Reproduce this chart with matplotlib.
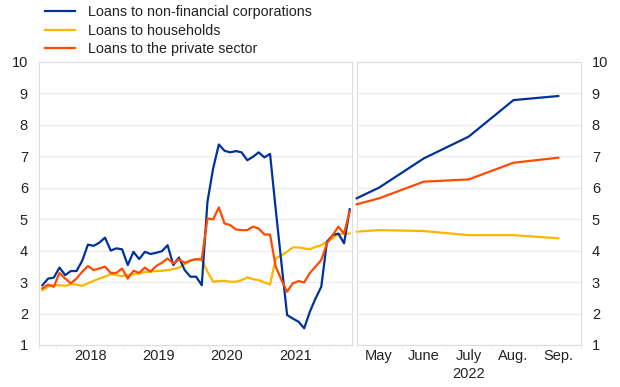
import matplotlib
matplotlib.use("Agg")
import matplotlib.pyplot as plt
import numpy as np

plt.rcParams['font.family'] = ['Liberation Sans', 'DejaVu Sans']

# Monthly series, Oct 2017 - Apr 2022 (left panel)
nfc = [2.90, 3.11, 3.14, 3.46, 3.22, 3.35, 3.35, 3.68, 4.19, 4.15,
       4.25, 4.41, 4.00, 4.07, 4.04, 3.54, 3.96, 3.73, 3.96, 3.89,
       3.93, 3.98, 4.17, 3.54, 3.78, 3.38, 3.17, 3.17, 2.90, 5.55,
       6.61, 7.37, 7.17, 7.12, 7.16, 7.12, 6.87, 6.98, 7.12, 6.96,
       7.07, 5.30, 3.60, 1.95, 1.84, 1.74, 1.53, 2.06, 2.48, 2.85,
       4.28, 4.49, 4.54, 4.23, 5.31]
hh = [2.74, 2.85, 2.90, 2.90, 2.88, 2.93, 2.92, 2.88, 2.96, 3.04,
      3.11, 3.17, 3.25, 3.22, 3.19, 3.22, 3.25, 3.27, 3.32, 3.33,
      3.35, 3.36, 3.38, 3.41, 3.46, 3.56, 3.68, 3.72, 3.70, 3.33,
      3.01, 3.03, 3.04, 3.01, 3.01, 3.06, 3.15, 3.09, 3.06, 2.99,
      2.92, 3.75, 3.85, 3.96, 4.10, 4.10, 4.07, 4.04, 4.12, 4.17,
      4.28, 4.39, 4.52, 4.54, 4.54]
ps = [2.80, 2.92, 2.85, 3.29, 3.11, 2.96, 3.11, 3.33, 3.51, 3.38,
      3.43, 3.49, 3.29, 3.29, 3.43, 3.11, 3.36, 3.29, 3.46, 3.33,
      3.51, 3.61, 3.75, 3.59, 3.72, 3.61, 3.68, 3.73, 3.72, 5.02,
      4.99, 5.37, 4.86, 4.81, 4.67, 4.65, 4.65, 4.76, 4.70, 4.51,
      4.51, 3.49, 3.07, 2.69, 2.96, 3.03, 2.99, 3.29, 3.49, 3.70,
      4.23, 4.49, 4.76, 4.54, 5.25]
years = ['2018', '2019', '2020', '2021']

# Right panel (2022): first value sits at the panel's left edge
months = ['May', 'June', 'July', 'Aug.', 'Sep.']
nfc_r = [5.66, 6.00, 6.93, 7.62, 8.78, 8.91]
hh_r = [4.60, 4.65, 4.62, 4.49, 4.49, 4.39]
ps_r = [5.47, 5.66, 6.19, 6.26, 6.79, 6.95]

c_nfc = '#003299'
c_hh = '#ffb400'
c_ps = '#ff4b00'
grid_c = '#ececec'
spine_c = '#dcdcdc'
txt_c = '#222222'

W, H = 620, 387
fig = plt.figure(figsize=(6.2, 3.87), dpi=100)
bot = (H - 345) / H
top = (H - 61.7) / H
axL = fig.add_axes([39 / W, bot, (352 - 39) / W, top - bot])
axR = fig.add_axes([356.7 / W, bot, (580.7 - 356.7) / W, top - bot])

xl = np.arange(len(nfc)) - 2.4
lw = 1.6
axL.plot(xl, nfc, color=c_nfc, lw=lw, label='Loans to non-financial corporations', zorder=3)
axL.plot(xl, hh, color=c_hh, lw=lw, label='Loans to households', zorder=2)
axL.plot(xl, ps, color=c_ps, lw=lw, label='Loans to the private sector', zorder=3)

xr = np.concatenate([[-0.5], np.arange(len(months))])
axR.plot(xr, nfc_r, color=c_nfc, lw=lw, zorder=3, clip_on=False)
axR.plot(xr, hh_r, color=c_hh, lw=lw, zorder=2, clip_on=False)
axR.plot(xr, ps_r, color=c_ps, lw=lw, zorder=3, clip_on=False)

for ax in (axL, axR):
    ax.set_ylim(1, 10)
    ax.set_yticks(range(1, 11))
    ax.grid(axis='y', color=grid_c, lw=0.9, zorder=0)
    for s in ax.spines.values():
        s.set_color(spine_c)
        s.set_linewidth(0.8)
    ax.tick_params(axis='both', colors=spine_c, labelcolor=txt_c, labelsize=10.5, length=0)

axL.set_xlim(-2.84, 52.0)
axL.set_xticks([6, 18, 30, 42])
axL.set_xticklabels(years)
axL.set_xticks(np.arange(-3, 52, 3), minor=True)
axL.tick_params(axis='x', which='minor', length=3, color='#ececec')
axL.tick_params(axis='x', pad=3)
axL.tick_params(axis='y', pad=8)

axR.set_xlim(-0.5, 4.5)
axR.set_xticks(range(len(months)))
axR.set_xticklabels(months)
axR.set_xticks(np.arange(-0.5, 4.6, 1), minor=True)
axR.tick_params(axis='x', which='minor', length=3, color='#ececec')
axR.tick_params(axis='x', pad=3)
axR.yaxis.tick_right()
axR.tick_params(axis='y', left=False, right=False, labelleft=False, labelright=True, pad=8)
axR.text(2, -0.078, '2022', transform=axR.get_xaxis_transform(), ha='center', va='top',
         fontsize=10.5, color=txt_c)

leg = axL.legend(loc='lower left', bbox_to_anchor=(0.0, 1.0), frameon=False, fontsize=10.3,
                 handlelength=2.1, handletextpad=0.95, labelspacing=0.3, borderaxespad=0.1,
                 borderpad=0.3)
for t in leg.get_texts():
    t.set_color(txt_c)

fig.savefig('out.png', dpi=100)
